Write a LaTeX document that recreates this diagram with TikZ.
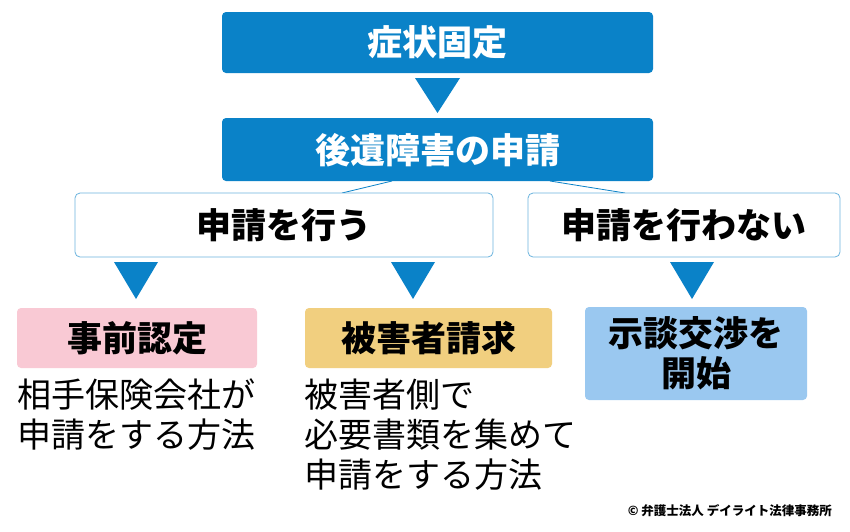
\documentclass[tikz,border=0pt]{standalone}
\usepackage{fontspec}
\setmainfont{Noto Sans CJK JP}
\begin{document}
\begin{tikzpicture}[x=1pt,y=-1pt,
 bluebox/.style={fill=bl,rounded corners=4pt},
 whitebox/.style={draw=bl!60,line width=0.8pt,fill=white,rounded corners=5pt},
 tri/.style={fill=bl},
 lbl/.style={font=\bfseries\fontsize{35}{38}\selectfont},
 txt/.style={font=\fontsize{34}{40}\selectfont,anchor=north west,align=left,inner sep=0pt},
 conn/.style={draw=bl,line width=0.8pt}]
\definecolor{bl}{HTML}{0A82C8}
\definecolor{pk}{HTML}{F9C9D4}
\definecolor{yl}{HTML}{F1CF7F}
\definecolor{lb}{HTML}{9AC8F0}
\useasboundingbox (0,0) rectangle (850,531);
\fill[white] (0,0) rectangle (850,531);
\fill[bluebox] (222,12) rectangle (653,73);
\node[lbl,text=white] (a) at (437.5,42) {症状固定};
\fill[tri] (415,78) -- (460,78) -- (437.5,113) -- cycle;
\fill[bluebox] (222,118) rectangle (653,181);
\node[lbl,text=white] (b) at (437.5,150) {後遺障害の申請};
\coordinate (bl1) at (392,181); \coordinate (bl2) at (342,193);
\coordinate (br1) at (550,181); \coordinate (br2) at (625,193);
\draw[conn] (bl1) -- (bl2); \draw[conn] (br1) -- (br2);
\draw[whitebox] (75,193) rectangle (493,257);
\node[lbl] (c) at (284,225) {申請を行う};
\draw[whitebox] (528,193) rectangle (840,257);
\node[lbl] (d) at (684,225) {申請を行わない};
\fill[tri] (114,262) -- (158,262) -- (136,299) -- cycle;
\fill[tri] (391,262) -- (435,262) -- (413,299) -- cycle;
\fill[tri] (670,262) -- (714,262) -- (692,299) -- cycle;
\fill[pk,rounded corners=4pt] (17,308) rectangle (257,368);
\node[lbl] (e) at (137,338) {事前認定};
\fill[yl,rounded corners=4pt] (305,308) rectangle (552,368);
\node[lbl] (f) at (428.5,338) {被害者請求};
\fill[lb,rounded corners=4pt] (585,307) rectangle (807,400);
\node[lbl,align=center,font=\bfseries\fontsize{35}{40}\selectfont] (g) at (696,353) {示談交渉を\\開始};
\node[txt] (h) at (17,379) {相手保険会社が\\申請をする方法};
\node[txt] (i) at (304,379) {被害者側で\\必要書類を集めて\\申請をする方法};
\node[font=\bfseries\fontsize{12.5}{14}\selectfont,anchor=east,inner sep=0pt] (j) at (832,511) {© 弁護士法人 デイライト法律事務所};
\end{tikzpicture}
\end{document}
